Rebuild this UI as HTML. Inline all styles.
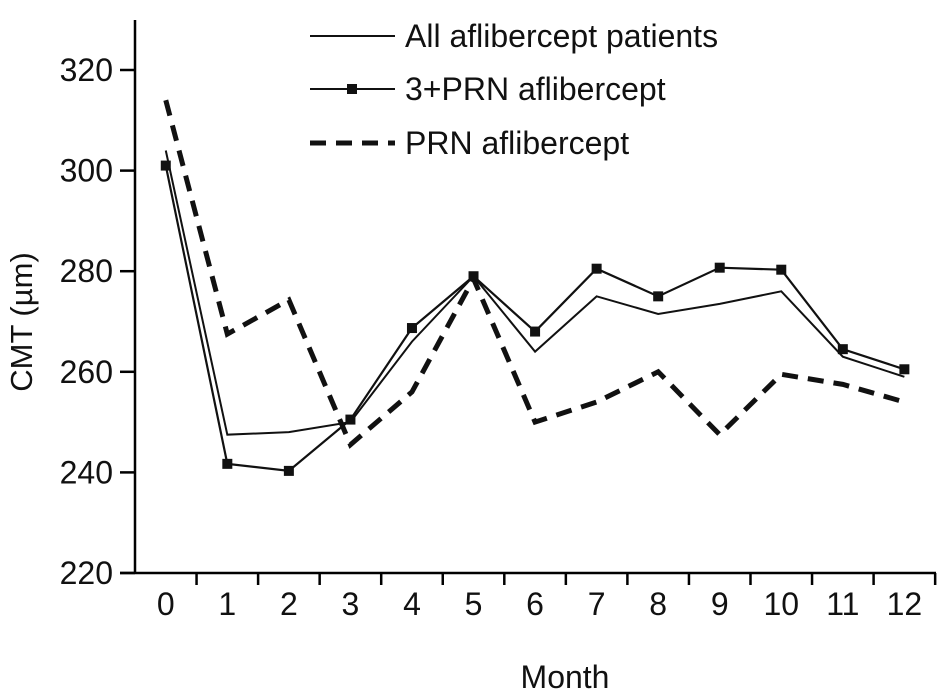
<!DOCTYPE html>
<html><head><meta charset="utf-8"><style>
body{margin:0;background:#fff;}
svg text{font-family:"Liberation Sans",Arial,sans-serif;fill:#111;}
</style></head><body>
<svg id="chart" width="945" height="693" viewBox="0 0 945 693" xmlns="http://www.w3.org/2000/svg">
<g id="axes"></g>
<g id="series"></g>
<g id="legend"></g>
<text x="0" y="0" font-size="31" text-anchor="middle" transform="translate(32,322) rotate(-90)">CMT (µm)</text>
<text x="565" y="688" font-size="32" text-anchor="middle">Month</text>
</svg>
<script>
const months = ["0","1","2","3","4","5","6","7","8","9","10","11","12"];
const yTicks = [220,240,260,280,300,320];
const allPatients = [304,247.5,248,250,266,279,264,275,271.5,273.5,276,263,259];
const threePrn = [301,241.7,240.3,250.5,268.7,279,268,280.5,275,280.7,280.3,264.5,260.5];
const prn = [314,267.5,274.3,245.5,256,278.5,250,254,260,247.5,259.5,257.5,254];

const NS="http://www.w3.org/2000/svg";
const x0=135, step=61.55, yBase=573, yPerUnit=(573-70)/100;
function xScale(i){return x0+step*(i+0.5);}
function yScale(v){return yBase-(v-220)*yPerUnit;}
function mk(tag,attrs,parent){const e=document.createElementNS(NS,tag);for(const k in attrs)e.setAttribute(k,attrs[k]);parent.appendChild(e);return e;}
const axes=document.getElementById('axes');
let l=mk('line',{x1:x0,y1:20,x2:x0,y2:yBase,stroke:'#000','stroke-width':2.5},axes);


l=mk('line',{x1:x0-15,y1:yBase,x2:936,y2:yBase,stroke:'#000','stroke-width':2.5},axes);


yTicks.forEach(v=>{
  const y=yScale(v);
  const t=mk('line',{x1:x0-15,y1:y,x2:x0,y2:y,stroke:'#000','stroke-width':2.5},axes);
  
  
  const tx=mk('text',{x:x0-22,y:y+11,'font-size':32,'text-anchor':'end'},axes);
  tx.textContent=v;
  
  
});
months.forEach((m,i)=>{
  const tk=mk('line',{x1:x0+step*(i+1),y1:yBase,x2:x0+step*(i+1),y2:yBase+12,stroke:'#000','stroke-width':2.5},axes);
  
  
  const tx=mk('text',{x:xScale(i),y:yBase+42,'font-size':32,'text-anchor':'middle'},axes);
  tx.textContent=m;
  
  
});
const series=document.getElementById('series');
function pts(arr){return arr.map((v,i)=>xScale(i)+','+yScale(v)).join(' ');}
let p=mk('polyline',{points:pts(prn),fill:'none',stroke:'#111','stroke-width':5,'stroke-dasharray':'16,10'},series);


p=mk('polyline',{points:pts(allPatients),fill:'none',stroke:'#111','stroke-width':2},series);


p=mk('polyline',{points:pts(threePrn),fill:'none',stroke:'#111','stroke-width':2.2},series);


threePrn.forEach((v,i)=>{
  const r=mk('rect',{x:xScale(i)-5,y:yScale(v)-5,width:10,height:10,fill:'#111'},series);
  
  
});
const lg=document.getElementById('legend');
const items=[["All aflibercept patients",36,'solid'],["3+PRN aflibercept",89,'marker'],["PRN aflibercept",143,'dash']];
items.forEach(it=>{
  const g=mk('g',{},lg);
  
  
  const ln=mk('line',{x1:310,y1:it[1],x2:395,y2:it[1],stroke:'#111','stroke-width':it[2]==='dash'?5:2},g);
  if(it[2]==='dash')ln.setAttribute('stroke-dasharray','16,10');
  if(it[2]==='marker'){mk('rect',{x:347,y:it[1]-5,width:10,height:10,fill:'#111'},g);}
  const tx=mk('text',{x:405,y:it[1]+11,'font-size':32},g);
  tx.textContent=it[0];
});
</script>
</body></html>
